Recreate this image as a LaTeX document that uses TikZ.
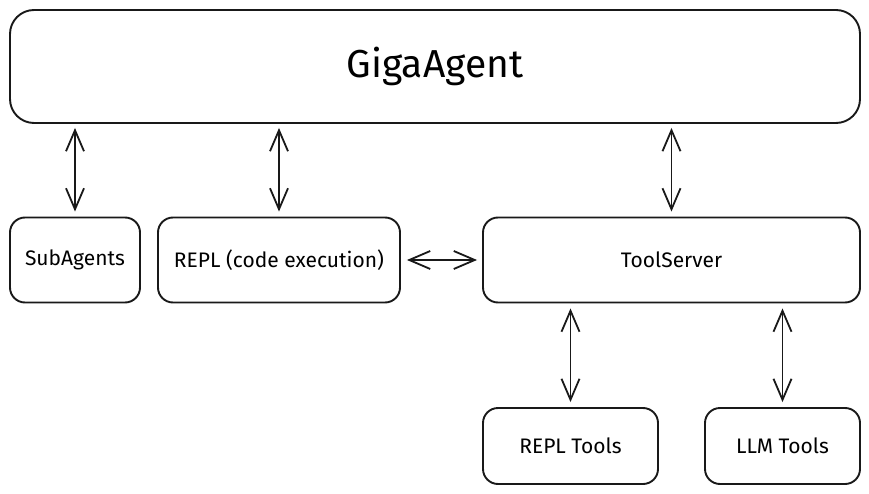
\documentclass[tikz,border=0pt]{standalone}
\usepackage{fontspec}
\setmainfont{Fira Sans}
\usetikzlibrary{arrows.meta}
\begin{document}
\begin{tikzpicture}[x=1pt,y=-1pt,
  box/.style={draw=black!90, line width=1.9pt, rounded corners=15pt, inner sep=0pt, font=\fontsize{21}{24}\selectfont},
  bigbox/.style={box, rounded corners=24pt, font=\fontsize{39}{44}\selectfont},
  tip/.style={Straight Barb[length=21pt,width=18pt,line width=1.8pt]},
  dbl/.style={draw=black!90, line width=1.8pt, {Straight Barb[length=21pt,width=18pt,line width=1.8pt]}-{Straight Barb[length=21pt,width=18pt,line width=1.8pt]}}]
\useasboundingbox (0,0) rectangle (869,494);
\fill[white] (0,0) rectangle (869,494);
\node[bigbox, minimum width=850pt, minimum height=113pt] (giga) at (435,66.5) {GigaAgent};
\node[box, minimum width=130pt, minimum height=85pt] (sub) at (75,260) {SubAgents};
\node[box, minimum width=242pt, minimum height=85pt] (repl) at (279,260) {REPL (code execution)};
\node[box, minimum width=377pt, minimum height=85pt] (ts) at (671.5,260) {ToolServer};
\node[box, minimum width=175pt, minimum height=76pt] (rt) at (570.5,446) {REPL Tools};
\node[box, minimum width=155pt, minimum height=76pt] (llm) at (782.5,446) {LLM Tools};
\draw[dbl, shorten <=4pt, shorten >=5pt] (giga.south -| sub.north) -- (sub.north);
\draw[dbl, shorten <=4pt, shorten >=5pt] (giga.south -| repl.north) -- (repl.north);
\draw[dbl, shorten <=4pt, shorten >=5pt] (giga.south -| ts.north) -- (ts.north);
\draw[dbl, shorten <=6pt, shorten >=5pt] (repl.east) -- (ts.west);
\draw[dbl, shorten <=5pt, shorten >=5pt] (ts.south -| rt.north) -- (rt.north);
\draw[dbl, shorten <=5pt, shorten >=5pt] (ts.south -| llm.north) -- (llm.north);
\end{tikzpicture}
\end{document}
